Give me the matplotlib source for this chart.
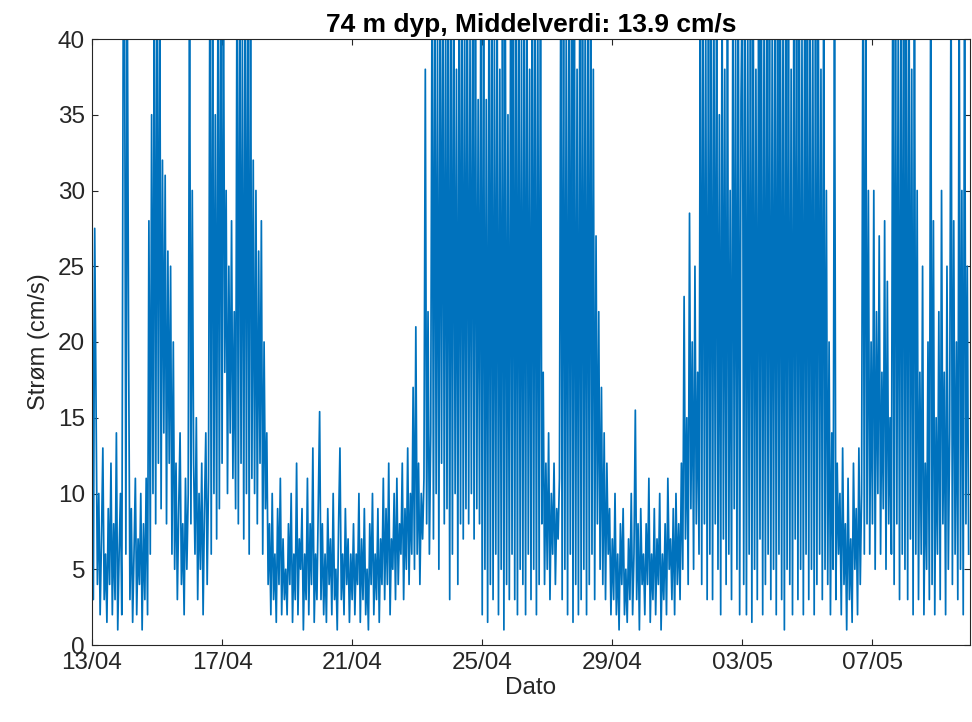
import numpy as np
import pandas as pd
import matplotlib
matplotlib.use("Agg")
import matplotlib.pyplot as plt
import matplotlib.dates as mdates

plt.rcParams['font.family'] = ['Liberation Sans', 'DejaVu Sans']

# === Data: current speed (cm/s), hourly values, one row per day ===
START = "2021-04-13 00:00"
END = "2021-05-10 00:00"
STEP = "1h"
speed = [
    30, 3, 27.5, 16, 4, 10, 2, 7, 13, 3, 6, 1.5, 9, 4, 12, 2, 8, 3, 14, 1, 6, 10, 2, 40,        # 13/04
    45, 6, 45, 20, 3, 9, 1.5, 6, 11, 2, 7, 4, 10, 1, 8, 3, 11, 2, 28, 6, 35, 10, 45, 8,         # 14/04
    45, 12, 45, 9, 32, 14, 31, 8, 26, 12, 25, 6, 20, 5, 12, 3, 9, 14, 4, 8, 2, 11, 5, 10,      # 15/04
    45, 8, 30, 12, 6, 15, 3, 10, 5, 12, 2, 9, 14, 4, 11, 45, 6, 45, 10, 35, 7, 45, 9, 45,      # 16/04
    12, 45, 18, 30, 10, 25, 14, 28, 11, 22, 9, 45, 8, 45, 12, 40, 7, 45, 10, 45, 6, 45, 11, 32,  # 17/04
    10, 30, 8, 26, 12, 28, 6, 20, 9, 14, 4, 8, 2, 10, 3, 6, 1.5, 9, 4, 11, 2, 7, 3, 5,         # 18/04
    2, 8, 4, 10, 1.5, 6, 3, 12, 2, 7, 5, 9, 1, 6, 3, 11, 2, 8, 4, 13, 1.5, 6, 3, 9,            # 19/04
    15.4, 3, 8, 2, 6, 1.5, 9, 4, 7, 2, 10, 3, 5, 1, 8, 13, 3, 6, 2, 9, 4, 7, 1.5, 6,           # 20/04
    3, 8, 2, 6, 4, 10, 1.5, 7, 3, 9, 2, 5, 1, 8, 4, 10, 2, 6, 3, 9, 1.5, 7, 4, 11,             # 21/04
    3, 9, 4, 12, 2, 7, 5, 10, 3, 11, 4, 8, 6, 12, 3, 9, 5, 13, 4, 10, 6, 17, 5, 21,            # 22/04
    6, 12, 4, 10, 7, 11, 38, 8, 22, 6, 14, 45, 7, 45, 10, 40, 5, 45, 12, 45, 8, 42, 9, 45,     # 23/04
    3, 45, 6, 45, 10, 38, 4, 45, 8, 45, 7, 42, 9, 45, 8, 40, 10, 45, 7, 45, 9, 36, 8, 45,      # 24/04
    2, 45, 5, 36, 1.5, 45, 4, 45, 3, 40, 6, 45, 2, 38, 5, 45, 1, 45, 4, 35, 3, 45, 6, 45,      # 25/04
    3, 45, 2, 45, 5, 40, 4, 45, 2, 45, 6, 38, 3, 45, 5, 45, 2, 42, 4, 45, 8, 18, 4, 12,        # 26/04
    5, 14, 3, 10, 6, 12, 4, 9, 7, 11, 45, 3, 45, 5, 40, 2, 45, 6, 45, 1.5, 45, 4, 38, 2,       # 27/04
    45, 3, 45, 5, 42, 2, 45, 4, 45, 6, 38, 3, 27, 8, 22, 5, 17, 4, 14, 3, 12, 6, 9, 2,         # 28/04
    7, 3, 10, 2, 6, 1, 8, 4, 9, 2, 5, 1.5, 7, 3, 10, 2, 6, 15.5, 3, 8, 1, 9, 4, 6,             # 29/04
    2, 8, 4, 11, 1.5, 6, 3, 9, 2, 7, 4, 10, 1, 6, 3, 8, 2, 11, 5, 7, 3, 9, 2, 10,              # 30/04
    4, 8, 3, 12, 5, 23, 7, 15, 4, 28.5, 9, 20, 5, 25, 8, 18, 6, 45, 4, 45, 8, 40, 3, 45,       # 01/05
    6, 45, 3, 42, 8, 45, 5, 35, 2, 45, 7, 38, 4, 45, 6, 30, 3, 45, 9, 40, 5, 45, 2, 36,        # 02/05
    45, 4, 45, 2, 40, 6, 45, 1.5, 45, 5, 38, 3, 45, 7, 45, 2, 42, 4, 45, 6, 45, 3, 40, 5,      # 03/05
    45, 2, 45, 6, 45, 3, 42, 1, 45, 5, 45, 4, 38, 2, 45, 7, 45, 3, 45, 5, 40, 2, 45, 6,        # 04/05
    45, 3, 45, 5, 40, 2, 45, 4, 45, 6, 38, 3, 45, 5, 30, 4, 20, 2, 14, 5, 45, 3, 12, 6,        # 05/05
    10, 2, 13, 4, 8, 1, 11, 3, 7, 1.5, 12, 5, 9, 2, 13, 4, 10, 45, 6, 45, 8, 30, 6, 20,        # 06/05
    8, 30, 5, 22, 10, 27, 6, 18, 9, 28, 5, 24, 8, 15, 6, 45, 4, 45, 8, 40, 3, 45, 6, 45,       # 07/05
    5, 45, 3, 45, 7, 38, 2, 45, 6, 30, 3, 18, 6, 25, 2, 12, 5, 20, 3, 45, 4, 28, 2, 15,        # 08/05
    6, 22, 3, 30, 8, 18, 2, 25, 5, 14, 45, 4, 28, 6, 20, 3, 45, 5, 30, 2, 45, 8, 25, 6,        # 09/05
]
TITLE = "74 m dyp, Middelverdi: 13.9 cm/s"
Y_TICKS = [0, 5, 10, 15, 20, 25, 30, 35, 40]

times = pd.date_range(START, periods=len(speed), freq=STEP)

fig = plt.figure(figsize=(9.72, 7.22), dpi=100)
ax = fig.add_axes([92 / 972, 77 / 722, 878 / 972, 606 / 722])
ax.plot(times, speed, color='#0072BD', linewidth=1.25)

ax.set_xlim(pd.Timestamp(START), pd.Timestamp(END))
ax.set_ylim(0, 40)
ax.set_yticks(Y_TICKS)
ax.xaxis.set_major_locator(mdates.DayLocator(bymonthday=[13, 17, 21, 25, 29, 3, 7]))
ax.xaxis.set_major_formatter(mdates.DateFormatter('%d/%m'))

ax.set_title(TITLE, fontsize=19, fontweight='bold', color='#000000', pad=5)
ax.set_xlabel("Dato", fontsize=17.5, color='#262626', labelpad=2)
ax.set_ylabel("Strøm (cm/s)", fontsize=17, color='#262626', labelpad=6)

ax.tick_params(direction='in', length=4, width=0.8, labelsize=17.5, colors='#262626',
               top=True, right=True, pad=5)
for s in ax.spines.values():
    s.set_color('#262626')
    s.set_linewidth(0.8)

fig.savefig("out.png", dpi=100)
